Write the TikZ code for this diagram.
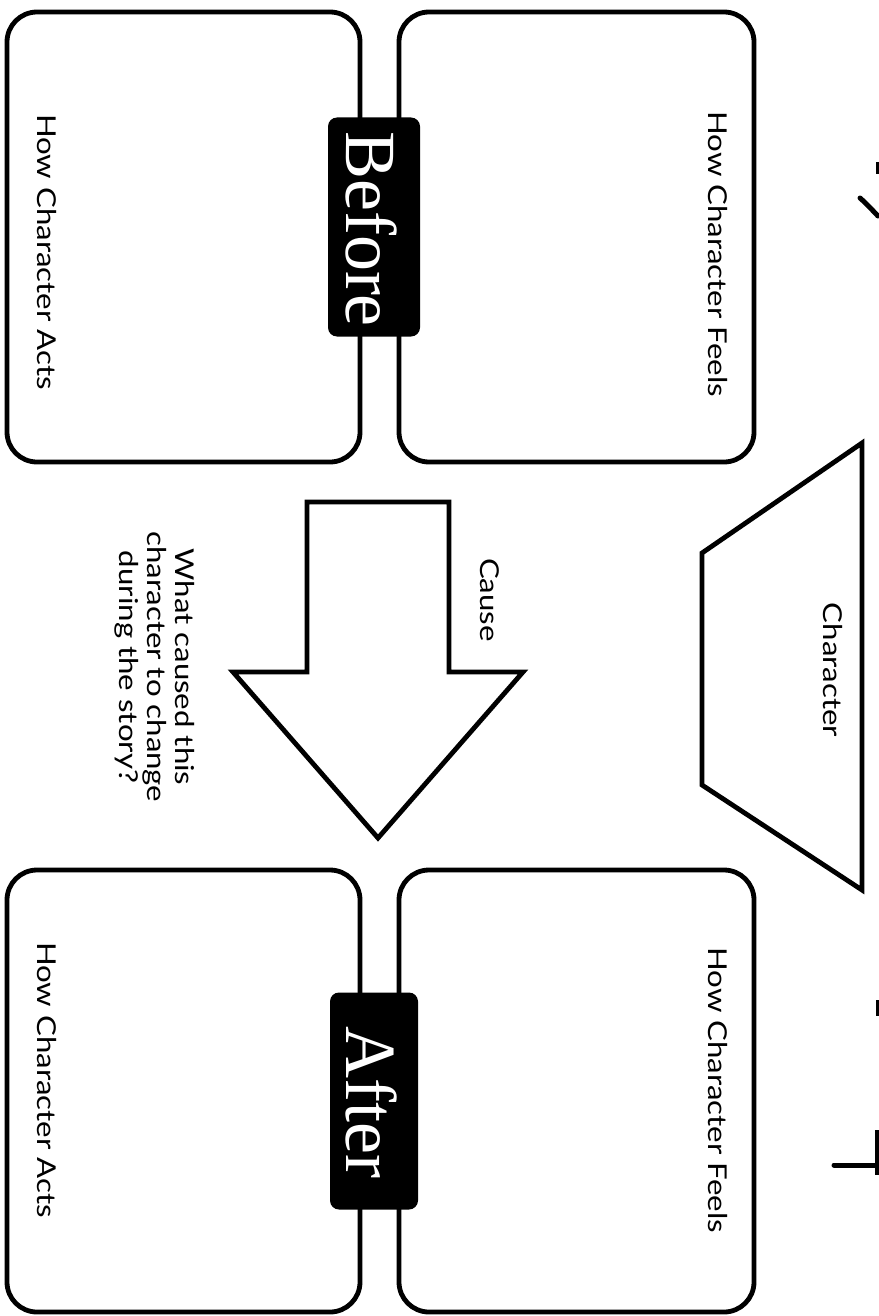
\documentclass[tikz,border=0pt]{standalone}
\usepackage{fontspec}
\setmainfont{Liberation Serif}
\newfontfamily\lab[FakeStretch=1.2]{Lato}
\begin{document}
\begin{tikzpicture}[x=1pt,y=-1pt,
  panel/.style={draw=black,line width=4.8pt,rounded corners=30pt,fill=white},
  tag/.style={fill=black,text=white,rounded corners=9pt,inner sep=0pt,
    font=\fontsize{72}{72}\selectfont,rotate=-90},
  lbl/.style={font=\lab\fontsize{26}{28}\selectfont,rotate=-90,inner sep=0pt,align=center},
  outline/.style={draw=black,line width=4.8pt,line join=miter,fill=white},
  ink/.style={line width=5pt,line cap=round}]
\useasboundingbox[fill=white] (0,0) rectangle (878,1316);
% panels
\draw[panel] (7,12) rectangle (360,462);
\draw[panel] (399,12) rectangle (754,462);
\draw[panel] (7,870) rectangle (360,1312);
\draw[panel] (399,870) rectangle (754,1312);
% tags
\node[tag,minimum width=219pt,minimum height=92pt] (before) at (374,227) {};
\node[tag,fill=none] (beforetext) at (371,229) {Before};
\node[tag,minimum width=217pt,minimum height=88pt] (after) at (374,1101) {};
\node[tag,fill=none] (aftertext) at (371,1102) {After};
% panel labels
\node[lbl] (acts1) at (47,252) {How Character Acts};
\node[lbl] (feels1) at (718,254) {How Character Feels};
\node[lbl] (acts2) at (47,1080) {How Character Acts};
\node[lbl] (feels2) at (718,1090) {How Character Feels};
% cause arrow
\draw[outline] (307,502) -- (449,502) -- (449,672) -- (523,672) -- (378,838)
  -- (233,672) -- (307,672) -- cycle;
\node[lbl] (cause) at (490,600) {Cause};
\node[lbl] (question) at (155,667) {What caused this\\character to change\\during the story?};
% character trapezoid
\draw[outline] (862,443) -- (862,890) -- (702,785) -- (702,553) -- cycle;
\node[lbl] (character) at (833,670) {Character};
% marks cut at the right edge
\draw[ink] (860,198) .. controls (868,205) and (874,212) .. (878,216);
\draw[line width=3pt] (877,162) -- (877,174);
\draw[ink] (834,1165) -- (878,1165);
\draw[line width=3pt] (877,1000) -- (877,1016);
\draw[line width=4pt] (877,1130) -- (877,1175);
\end{tikzpicture}
\end{document}
